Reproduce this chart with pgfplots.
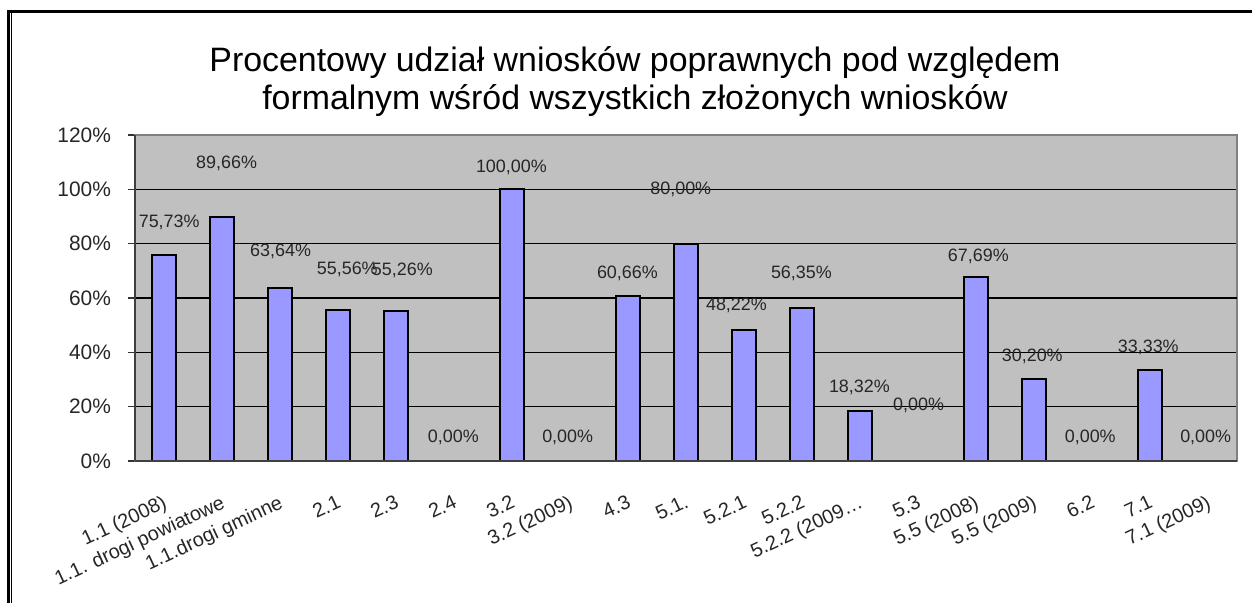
\documentclass[border=0pt]{standalone}
\usepackage{pgfplots}
\pgfplotsset{compat=1.18}
\usepackage{pgfplotstable}
\usepackage{fontspec}
\setmainfont{Liberation Sans}
\definecolor{plotgray}{HTML}{C0C0C0}
\definecolor{barblue}{HTML}{9999FF}
\definecolor{bordergray}{HTML}{808080}

\pgfplotstableread{
x y
0 75.73
1 89.66
2 63.64
3 55.56
4 55.26
5 0
6 100
7 0
8 60.66
9 80
10 48.22
11 56.35
12 18.32
13 0
14 67.69
15 30.20
16 0
17 33.33
18 0
}\bars

\pgfplotstableread{
x y lab
0.09 88.0 75,73
1.08 109.7 89,66
2.01 77.3 63,64
3.16 70.7 55,56
4.11 70.3 55,26
4.99 8.8 0,00
5.99 108.2 100,00
6.96 8.8 0,00
7.99 69.2 60,66
8.91 100.1 80,00
9.87 57.4 48,22
10.99 69.2 56,35
11.99 27.2 18,32
13.01 20.6 0,00
14.04 75.5 67,69
14.97 38.6 30,20
15.97 8.8 0,00
16.97 42.0 33,33
17.96 8.8 0,00
}\labs

\begin{document}
\begin{tikzpicture}
\path[use as bounding box] (-67.5bp,-71bp) rectangle (558.5bp,230.5bp);
\draw[black, line width=1.35bp] (-63.8bp,224.85bp) -- (558.5bp,224.85bp);
\draw[black, line width=1.3bp] (-63.15bp,225.5bp) -- (-63.15bp,-71bp);
\draw[black, line width=0.5bp] (-61.9bp,224bp) -- (-61.9bp,-71bp);
\node[anchor=base, font=\fontsize{17}{19}\selectfont] at (250bp,194.5bp) {Procentowy udział wniosków poprawnych pod względem};
\node[anchor=base, font=\fontsize{17}{19}\selectfont] at (250bp,175.5bp) {formalnym wśród wszystkich złożonych wniosków};
\begin{axis}[
  at={(0,0)}, anchor=south west,
  scale only axis, width=551bp, height=163bp,
  xmin=-0.5, xmax=18.5, ymin=0, ymax=120,
  axis background/.style={fill=plotgray},
  axis line style={draw=bordergray, line width=1bp},
  ytick={0,20,...,120},
  yticklabel={\pgfmathprintnumber{\tick}\%},
  /pgf/number format/assume math mode=true,
  ymajorgrids,
  major grid style={black, line width=0.6bp},
  ytick pos=left,
  tick align=outside,
  major tick length=3.5bp,
  y tick style={black!80, line width=0.6bp},
  x tick style={draw=none},
  yticklabel style={font=\fontsize{10.5}{12}\selectfont, text=black!85, xshift=-5bp},
  xtick={0,...,18},
  xticklabels={{1.1 (2008)},{1.1. drogi powiatowe},{1.1.drogi gminne},{2.1},{2.3},{2.4},{3.2},{3.2 (2009)},{4.3},{5.1.},{5.2.1},{5.2.2},{5.2.2 (2009\ldots},{5.3},{5.5 (2008)},{5.5 (2009)},{6.2},{7.1},{7.1 (2009)}},
  xticklabel style={font=\fontsize{10}{12}\selectfont, text=black!85, rotate=25, anchor=north east, xshift=-3bp, yshift=-8bp},
  extra y ticks={60},
  extra y tick labels={},
  extra y tick style={grid style={black, line width=1.3bp}, major tick length=0pt},
  clip=false,
]
\addplot[ybar, bar width=12bp, bar shift=0pt, fill=barblue, draw=black, line width=1bp] table[x=x, y=y]{\bars};
\addplot[draw=none, nodes near coords={\pgfplotspointmeta\%}, point meta=explicit symbolic,
  every node near coord/.append style={anchor=center, font=\fontsize{9}{11}\selectfont, text=black!85}]
  table[x=x, y=y, meta=lab]{\labs};
\draw[black!75, line width=0.8bp] (rel axis cs:0,0) -- (rel axis cs:0,1);
\draw[black!75, line width=0.8bp] (rel axis cs:0,0) -- (rel axis cs:1,0);
\end{axis}
\end{tikzpicture}
\end{document}
